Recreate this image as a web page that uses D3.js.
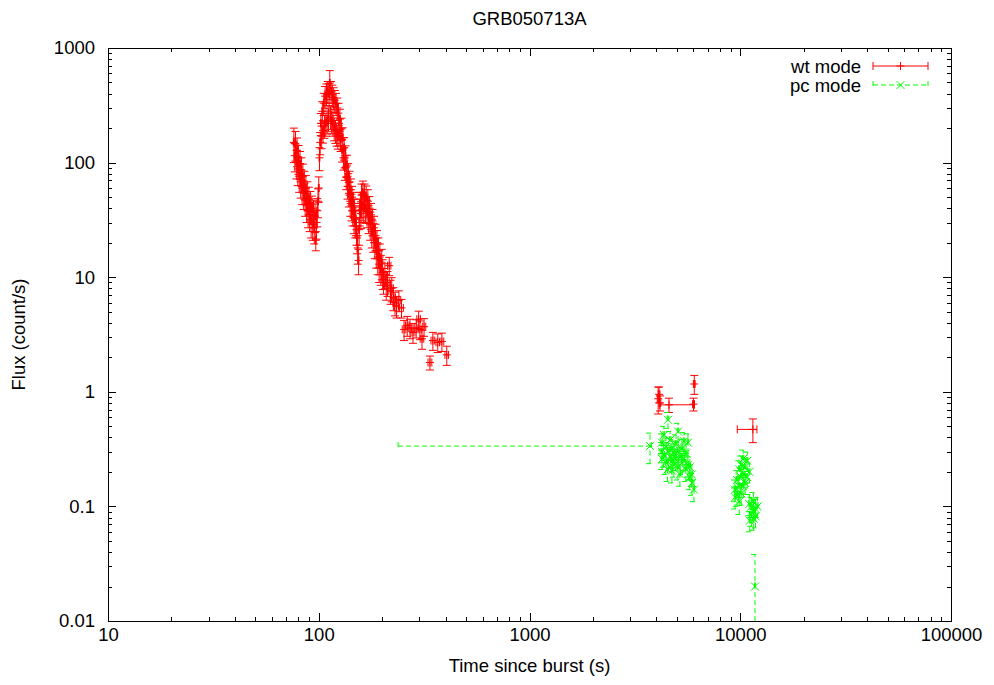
<!DOCTYPE html>
<html><head><meta charset="utf-8">
<script src="https://cdn.jsdelivr.net/npm/d3@7"></script>
<style>
body{margin:0;background:#fff}
text{font-family:"Liberation Sans",Arial,sans-serif;font-size:18.5px;fill:#000}
</style>
</head><body>
<svg id="c" width="994" height="685"></svg>
<script>
// ---------------- DATA ----------------
const chartTitle = "GRB050713A";
const xLabel = "Time since burst (s)";
const yLabel = "Flux (count/s)";
const xTickValues = [10, 100, 1000, 10000, 100000];
const xTickLabels = ["10", "100", "1000", "10000", "100000"];
const yTickValues = [0.01, 0.1, 1, 10, 100, 1000];
const yTickLabels = ["0.01", "0.1", "1", "10", "100", "1000"];
const seriesNames = ["wt mode", "pc mode"];

// WT mode (red)
const wtTime = [
 76.2,77.0,77.6,78.3,78.9,79.5,80.2,80.8,81.5,82.1,
 82.8,83.4,84.1,84.8,85.5,86.2,86.9,87.6,88.3,89.0,
 89.8,90.5,91.3,92.0,92.8,93.6,94.4,95.2,96.0,96.8,
 97.6,98.4,99.2,
 100.0,100.8,101.6,102.4,103.2,104.0,104.8,105.6,106.4,107.2,
 108.0,108.8,109.6,110.4,111.2,112.0,112.8,113.6,114.4,115.2,
 116.0,116.8,117.6,118.4,119.2,120.0,120.8,121.6,122.4,123.2,
 124.0,
 125,126,127,128,129,130,131,132,133,134,
 135,136,137,138,139,140,141,142,143,144,
 145,146,147,148,149,150,151,152,153,154.5,
 155.5,156.5,157.5,158.5,159.5,160.5,162.0,163.5,165.0,166.5,
 168.0,169.5,171.0,172.5,174.0,175.5,177.0,178.5,180.0,181.5,
 183.0,184.5,186.0,187.5,189.0,190.5,192.0,193.5,195.0,197.0,
 199.0,201.0,
 203,206,209,212,216,219,222,226,230,234,
 240,247,254,263,271,280,290,298,302,309,
 316,337,348,367,384,405,
 4080,4120,4160,4590,6050,6000,11480
];
const wtTimeMinus = [
 0.4,0.4,0.4,0.4,0.4,0.4,0.4,0.4,0.4,0.4,
 0.4,0.4,0.4,0.4,0.4,0.4,0.4,0.4,0.4,0.4,
 0.4,0.4,0.4,0.4,0.4,0.4,0.4,0.4,0.4,0.4,
 0.4,0.4,0.4,
 0.4,0.4,0.4,0.4,0.4,0.4,0.4,0.4,0.4,0.4,
 0.4,0.4,0.4,0.4,0.4,0.4,0.4,0.4,0.4,0.4,
 0.4,0.4,0.4,0.4,0.4,0.4,0.4,0.4,0.4,0.4,
 0.4,
 0.5,0.5,0.5,0.5,0.5,0.5,0.5,0.5,0.5,0.5,
 0.5,0.5,0.5,0.5,0.5,0.5,0.5,0.5,0.5,0.5,
 0.5,0.5,0.5,0.5,0.5,0.5,0.5,0.5,0.5,0.5,
 0.7,0.7,0.7,0.7,0.7,0.7,0.7,0.7,0.7,0.7,
 0.7,0.7,0.7,0.7,0.7,0.7,0.7,0.7,0.7,0.7,
 0.7,0.7,0.7,0.7,0.7,0.7,0.7,0.7,0.7,0.7,
 0.7,0.7,
 4,4,4,4,4,4,4,5,5,5,
 5,5,5,5,5,6,6,6,6,6,
 6,7,7,7,8,8,
 40,40,40,440,60,60,1800
];
const wtTimePlus = [
 0.4,0.4,0.4,0.4,0.4,0.4,0.4,0.4,0.4,0.4,
 0.4,0.4,0.4,0.4,0.4,0.4,0.4,0.4,0.4,0.4,
 0.4,0.4,0.4,0.4,0.4,0.4,0.4,0.4,0.4,0.4,
 0.4,0.4,0.4,
 0.4,0.4,0.4,0.4,0.4,0.4,0.4,0.4,0.4,0.4,
 0.4,0.4,0.4,0.4,0.4,0.4,0.4,0.4,0.4,0.4,
 0.4,0.4,0.4,0.4,0.4,0.4,0.4,0.4,0.4,0.4,
 0.4,
 0.5,0.5,0.5,0.5,0.5,0.5,0.5,0.5,0.5,0.5,
 0.5,0.5,0.5,0.5,0.5,0.5,0.5,0.5,0.5,0.5,
 0.5,0.5,0.5,0.5,0.5,0.5,0.5,0.5,0.5,0.5,
 0.7,0.7,0.7,0.7,0.7,0.7,0.7,0.7,0.7,0.7,
 0.7,0.7,0.7,0.7,0.7,0.7,0.7,0.7,0.7,0.7,
 0.7,0.7,0.7,0.7,0.7,0.7,0.7,0.7,0.7,0.7,
 0.7,0.7,
 4,4,4,4,4,4,4,5,5,5,
 5,5,5,5,5,6,6,6,6,6,
 6,7,7,7,8,8,
 40,40,40,1460,60,60,520
];
const wtFlux = [
 150,115,145,100,128,88,110,76,98,68,
 86,60,76,54,66,47,60,42,53,38,
 48,35,44,31,40,29,37,27,34,21,
 30,38,46,
 60,110,150,220,170,280,190,330,210,380,
 220,400,230,420,240,400,495,250,420,230,
 390,220,370,200,350,190,330,180,300,170,
 270,
 180,240,160,200,130,165,110,135,90,115,
 75,95,62,80,54,68,46,58,42,50,
 38,44,33,38,30,32,26,22,18,14,
 26,38,44,36,52,42,55,41,52,40,
 50,37,46,33,40,29,35,25,31,23,
 27,20,23,17,20,15,17,13,15,12,
 13.5,11,
 9.5,10.5,8.4,9.0,12.6,7.6,8.0,6.6,6.0,5.6,
 6.3,5.4,3.5,3.8,3.6,3.3,3.6,4.3,3.5,2.9,
 3.7,1.8,2.8,2.7,2.75,2.1,
 0.87,0.95,0.80,0.77,1.17,0.78,0.47
];
const wtFluxErr = [
 50,32,42,28,36,25,31,21,27,19,
 24,17,21,15,18,13,17,12,15,11,
 13,10,12,9,11,8,10,7.5,9.5,4,
 8.5,10.5,13,
 15,25,33,48,38,60,42,72,47,82,
 50,86,52,90,54,86,140,56,90,52,
 84,50,80,45,76,43,72,41,66,39,
 59,
 40,52,35,44,29,36,24,30,20,25,
 17,21,14,18,13,16,12,14,11,12,
 10,11,9,10,8,9,7,6,5,3.5,
 7,10,11,9.5,13,11,14,11,13,10.5,
 12.5,10,12,9,10.5,8,9,7,8,6.5,
 7,5.5,6,5,5.5,4.5,5,4,4.5,3.5,
 4,3.2,
 2.4,2.6,2.1,2.2,2.3,1.8,1.9,1.5,1.4,1.2,
 1.3,1.0,0.7,0.75,0.7,0.65,0.65,0.75,0.65,0.55,
 0.65,0.25,0.5,0.5,0.5,0.4,
 0.23,0.15,0.12,0.11,0.22,0.1,0.11
];

// PC mode (green)
const pcTime = [
 3730,
 4250,4250,4260,4340,4330,4440,4430,4540,4550,4520,
 4645,4650,4750,4740,4760,4850,4840,4960,4950,5070,
 5080,5060,5180,5170,5290,5300,5410,5400,5530,5520,
 5650,5640,5770,5760,5900,5890,6030,
 9440,9450,9660,9650,9880,9870,9890,10100,10090,10110,
 10330,10320,10340,10560,10550,10800,10790,11050,11040,11100,
 11300,11290,11560,11550,11570,11820,11810,12090,
 11750
];
const pcTimeMinus = [
 3492,
 40,40,40,40,40,40,40,40,40,40,
 40,40,40,40,40,40,40,40,40,40,
 40,40,40,40,40,40,40,40,40,40,
 40,40,40,40,40,40,40,
 70,70,70,70,70,70,70,70,70,70,
 70,70,70,70,70,70,70,70,70,70,
 70,70,70,70,70,70,70,70,
 40
];
const pcTimePlus = [
 60,
 40,40,40,40,40,40,40,40,40,40,
 40,40,40,40,40,40,40,40,40,40,
 40,40,40,40,40,40,40,40,40,40,
 40,40,40,40,40,40,40,
 70,70,70,70,70,70,70,70,70,70,
 70,70,70,70,70,70,70,70,70,70,
 70,70,70,70,70,70,70,70,
 40
];
const pcFlux = [
 0.336,
 .36,.30,.26,.42,.28,.33,.24,.57,.30,.21,
 .38,.27,.32,.205,.25,.29,.23,.35,.26,.45,
 .30,.22,.27,.19,.32,.24,.37,.26,.29,.21,
 .36,.23,.22,.18,.16,.19,.14,
 .14,.12,.17,.125,.21,.15,.11,.23,.18,.13,
 .19,.26,.15,.22,.16,.25,.18,.2,.105,.075,
 .1,.085,.09,.11,.078,.095,.082,.1,
 .02
];
const pcFluxErr = [
 0.1,
 .07,.06,.05,.08,.06,.065,.05,.09,.06,.045,
 .07,.055,.065,.045,.05,.06,.05,.07,.055,.08,
 .06,.05,.055,.04,.065,.05,.07,.055,.06,.045,
 .07,.05,.05,.04,.035,.04,.03,
 .03,.025,.035,.025,.04,.03,.025,.045,.035,.028,
 .038,.05,.03,.042,.032,.048,.035,.04,.022,.015,
 .02,.018,.018,.022,.016,.02,.017,.02,
 .018
];

// ---------------- CHART ----------------
const W = 994, H = 685;
const L = 108, R = 951, T = 48, B = 621;
const FS = 18.5;
const svg = d3.select("#c");
svg.append("rect").attr("width", W).attr("height", H).attr("fill", "#fff");

const x = d3.scaleLog().domain([10, 100000]).range([L, R]);
const y = d3.scaleLog().domain([0.01, 1000]).range([B, T]);

const xMinor = [];
for (let i = 0; i < xTickValues.length - 1; i++)
  for (let m = 2; m <= 9; m++) xMinor.push(xTickValues[i] * m);
const yMinor = [];
for (let i = 0; i < yTickValues.length - 1; i++)
  for (let m = 2; m <= 9; m++) yMinor.push(yTickValues[i] * m);

const XMAJ = 8, XMIN = 4, YMAJ = 8, YMIN = 4;
function styleAxis(g) {
  g.select(".domain").remove();
  g.selectAll("line").attr("stroke", "#000").attr("shape-rendering", "crispEdges");
  g.selectAll("text").attr("font-family", '"Liberation Sans",Arial,sans-serif').attr("font-size", FS).attr("fill", "#000");
}
svg.append("g").attr("transform", `translate(0,${B})`)
  .call(d3.axisBottom(x).tickValues(xTickValues).tickSize(-XMAJ).tickPadding(7)
    .tickFormat((d, i) => xTickLabels[i])).call(styleAxis);
svg.append("g").attr("transform", `translate(0,${B})`)
  .call(d3.axisBottom(x).tickValues(xMinor).tickSize(-XMIN).tickFormat("")).call(styleAxis);
svg.append("g").attr("transform", `translate(0,${T})`)
  .call(d3.axisTop(x).tickValues(xTickValues).tickSize(-XMAJ).tickFormat("")).call(styleAxis);
svg.append("g").attr("transform", `translate(0,${T})`)
  .call(d3.axisTop(x).tickValues(xMinor).tickSize(-XMIN).tickFormat("")).call(styleAxis);
svg.append("g").attr("transform", `translate(${L},0)`)
  .call(d3.axisLeft(y).tickValues(yTickValues).tickSize(-YMAJ).tickPadding(13)
    .tickFormat((d, i) => yTickLabels[i])).call(styleAxis);
svg.append("g").attr("transform", `translate(${L},0)`)
  .call(d3.axisLeft(y).tickValues(yMinor).tickSize(-YMIN).tickFormat("")).call(styleAxis);
svg.append("g").attr("transform", `translate(${R},0)`)
  .call(d3.axisRight(y).tickValues(yTickValues).tickSize(-YMAJ).tickFormat("")).call(styleAxis);
svg.append("g").attr("transform", `translate(${R},0)`)
  .call(d3.axisRight(y).tickValues(yMinor).tickSize(-YMIN).tickFormat("")).call(styleAxis);

svg.append("rect").attr("x", L + 0.5).attr("y", T + 0.5).attr("width", R - L).attr("height", B - T)
  .attr("fill", "none").attr("stroke", "#000").attr("shape-rendering", "crispEdges");

svg.append("text").attr("x", (L + R) / 2).attr("y", 24.5).attr("text-anchor", "middle").text(chartTitle);
svg.append("text").attr("x", (L + R) / 2).attr("y", 671.5).attr("text-anchor", "middle").text(xLabel);
svg.append("text").attr("transform", `translate(24.5,${(T + B) / 2}) rotate(-90)`).attr("text-anchor", "middle").text(yLabel);

svg.append("clipPath").attr("id", "clip").append("rect")
  .attr("x", L).attr("y", T).attr("width", R - L).attr("height", B - T);
const plot = svg.append("g").attr("clip-path", "url(#clip)");

const CAP = 4;
function errPath(cx, cy, x0, x1, y0, y1) {
  let p = `M${x0},${cy}H${x1}M${x0},${cy - CAP}V${cy + CAP}M${x1},${cy - CAP}V${cy + CAP}`;
  p += `M${cx},${y0}V${y1}M${cx - CAP},${y1}H${cx + CAP}`;
  if (y0 < 2000) p += `M${cx - CAP},${y0}H${cx + CAP}`;
  return p;
}
function drawSeries(time, tm, tp, flux, fe, color, dash, marker) {
  const g = plot.append("g");
  const idx = d3.range(time.length);
  g.selectAll("path.err").data(idx).join("path").attr("class", "err")
    .attr("d", i => {
      const lo = flux[i] - fe[i];
      const y0 = lo > 0 ? y(lo) : 5000;
      return errPath(x(time[i]), y(flux[i]), x(time[i] - tm[i]), x(time[i] + tp[i]), Math.min(y0, 5000), y(flux[i] + fe[i]));
    })
    .attr("fill", "none").attr("stroke", color).attr("stroke-width", 1)
    .attr("stroke-dasharray", dash);
  g.selectAll("path.mk").data(idx).join("path").attr("class", "mk")
    .attr("d", i => marker(x(time[i]), y(flux[i])))
    .attr("fill", "none").attr("stroke", color).attr("stroke-width", 1);
}
const plus = (cx, cy) => `M${cx - 4},${cy}H${cx + 4}M${cx},${cy - 4}V${cy + 4}`;
const cross = (cx, cy) => `M${cx - 4},${cy - 4}L${cx + 4},${cy + 4}M${cx - 4},${cy + 4}L${cx + 4},${cy - 4}`;

drawSeries(wtTime, wtTimeMinus, wtTimePlus, wtFlux, wtFluxErr, "#ff0000", null, plus);
drawSeries(pcTime, pcTimeMinus, pcTimePlus, pcFlux, pcFluxErr, "#00ff00", "5,3", cross);

const legY = [66, 85];
const legColors = ["#ff0000", "#00ff00"];
const legDash = [null, "5,3"];
const legMarks = [plus, cross];
seriesNames.forEach((name, i) => {
  svg.append("text").attr("x", 861).attr("y", legY[i] + 6.5).attr("text-anchor", "end").text(name);
  const x0 = 873, x1 = 928, cy = legY[i];
  svg.append("path")
    .attr("d", `M${x0},${cy}H${x1}M${x0},${cy - CAP}V${cy + CAP}M${x1},${cy - CAP}V${cy + CAP}`)
    .attr("stroke", legColors[i]).attr("fill", "none").attr("stroke-dasharray", legDash[i]);
  svg.append("path").attr("d", legMarks[i](900.5, cy))
    .attr("stroke", legColors[i]).attr("fill", "none");
});
</script>
</body></html>
